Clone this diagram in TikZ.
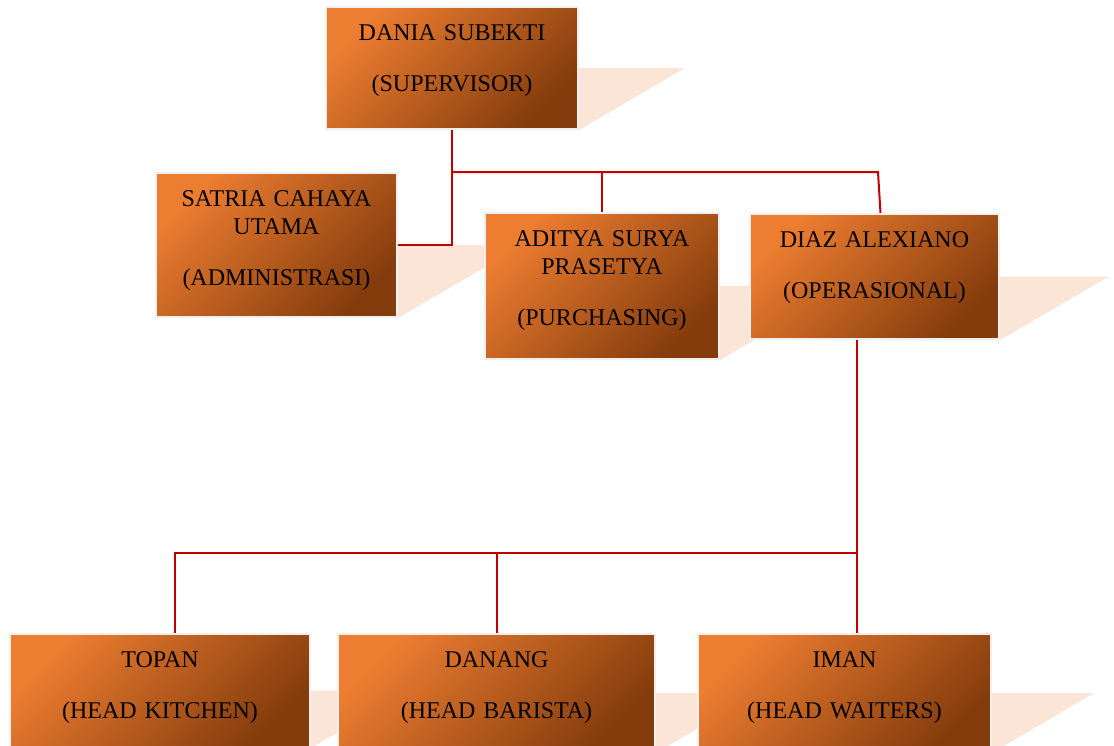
\documentclass[tikz,border=0pt]{standalone}
\usepackage{fontspec}
\setmainfont{Liberation Serif}
\usetikzlibrary{backgrounds}
\definecolor{orgtop}{RGB}{237,125,49}
\definecolor{orgbot}{RGB}{132,60,12}
\definecolor{shadowpeach}{RGB}{251,229,214}
\definecolor{linkred}{RGB}{192,0,0}
\tikzset{
  post/.style={anchor=north west, draw=black!6, line width=1pt,
    top color=orgtop, bottom color=orgbot, shading angle=45,
    inner sep=0pt, align=center, text height=16.5pt,
    font=\fontsize{12}{14}\selectfont},
  link/.style={draw=linkred, line width=1pt},
}
\begin{document}
\begin{tikzpicture}[x=0.5pt, y=-0.5pt]
  \useasboundingbox (0,0) rectangle (1114,745);
  % boxes
  \node[post, text width=126pt, text depth=44.5pt] (dania) at (325,6) {DANIA SUBEKTI\\[11.5pt](SUPERVISOR)};
  \node[post, text width=120.5pt, text depth=55.5pt] (satria) at (155,172) {SATRIA CAHAYA\\UTAMA\\[11.5pt](ADMINISTRASI)};
  \node[post, text width=117pt, text depth=56.5pt] (adit) at (484,212) {ADITYA SURYA\\PRASETYA\\[11.5pt](PURCHASING)};
  \node[post, text width=124.5pt, text depth=46pt] (diaz) at (749,213) {DIAZ ALEXIANO\\[11.5pt](OPERASIONAL)};
  \node[post, text width=150pt, text depth=40pt] (topan) at (9,633) {TOPAN\\[11.5pt](HEAD KITCHEN)};
  \node[post, text width=158.5pt, text depth=42.5pt] (danang) at (337,633) {DANANG\\[11.5pt](HEAD BARISTA)};
  \node[post, text width=146.5pt, text depth=42.5pt] (iman) at (697,633) {IMAN\\[11.5pt](HEAD WAITERS)};
  % shadows
  \begin{scope}[on background layer]
    \foreach \n/\d in {dania/53pt, satria/62.5pt, adit/63.5pt, diaz/54.5pt, topan/49pt, danang/51pt, iman/51pt}
      \fill[shadowpeach] (\n.west) -- ([xshift=\d]\n.east) -- (\n.south east) -- (\n.south west) -- cycle;
  \end{scope}
  % lines
  \coordinate (j1) at (451,172);
  \coordinate (j2) at (878,172);
  \coordinate (j3) at (857,553);
  \coordinate (j4) at (175,553);
  \draw[link] (dania.south) |- (satria.east);
  \draw[link] (j1) -- (j2) -- ([xshift=3pt]diaz.north);
  \draw[link] (adit.north |- j1) -- (adit.north);
  \draw[link] (j3 |- diaz.south) -- (j3 |- iman.north);
  \draw[link] (j3) -- (j4) -- (j4 |- topan.north);
  \draw[link] (danang.north |- j3) -- (danang.north);
\end{tikzpicture}
\end{document}
